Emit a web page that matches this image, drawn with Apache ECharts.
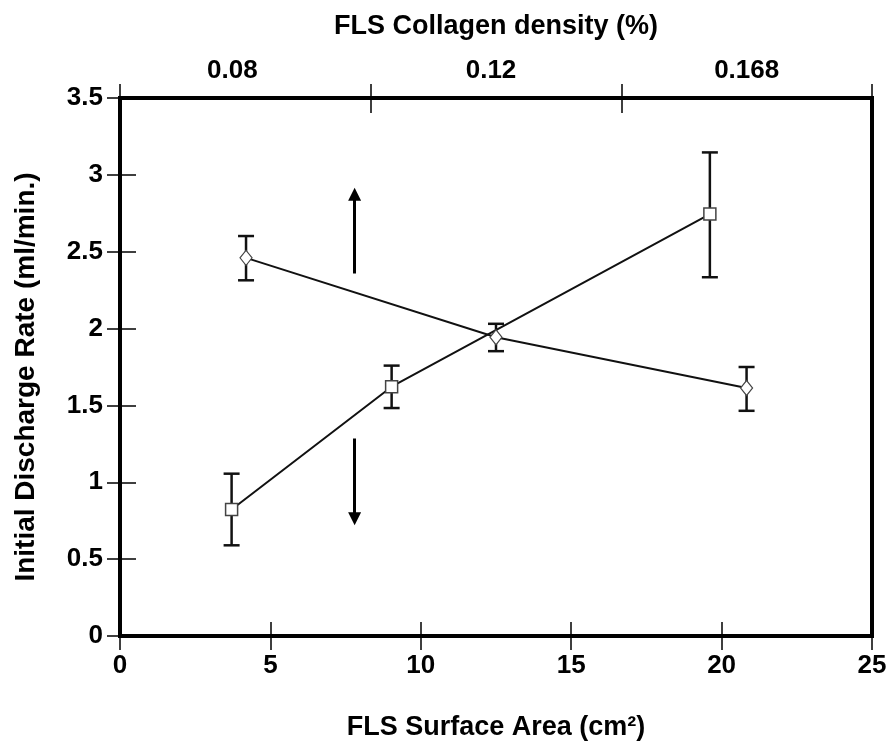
<!DOCTYPE html>
<html>
<head>
<meta charset="utf-8">
<script src="https://cdn.jsdelivr.net/npm/echarts@6/dist/echarts.min.js"></script>
<style>html,body{margin:0;padding:0;background:#fff;}#c{width:886px;height:746px;}</style>
</head>
<body>
<div id="c"></div>
<script>
// Surface area series (squares)
const areaX = [3.71, 9.03, 19.61];
const areaY = [0.823, 1.622, 2.745];
const areaLo = [0.59, 1.483, 2.334];
const areaHi = [1.056, 1.759, 3.146];
// Collagen density series (diamonds)
const densX = [4.19, 12.5, 20.83];
const densY = [2.46, 1.944, 1.613];
const densLo = [2.314, 1.853, 1.465];
const densHi = [2.602, 2.031, 1.75];
// Top axis categories
const topCats = ['0.08', '0.12', '0.168'];
// Arrows [x, yStart, yEnd]
const arrowX = [7.8, 7.8];
const arrowStart = [2.358, 1.285];
const arrowEnd = [2.874, 0.762];

const FONT = 'Liberation Sans, Arial, sans-serif';
const chart = echarts.init(document.getElementById('c'));

function errData(xs, lo, hi) { return xs.map((x, i) => [x, lo[i], hi[i]]); }
function errSeries(data) {
  return {
    type: 'custom', xAxisIndex: 0, yAxisIndex: 0, z: 3,
    data: data,
    renderItem: function (params, api) {
      const x = api.value(0);
      const lo = api.coord([x, api.value(1)]);
      const hi = api.coord([x, api.value(2)]);
      const w = 8;
      const st = { stroke: '#111', lineWidth: 2.5 };
      return { type: 'group', children: [
        { type: 'line', shape: { x1: lo[0], y1: lo[1], x2: hi[0], y2: hi[1] }, style: st },
        { type: 'line', shape: { x1: lo[0] - w, y1: lo[1], x2: lo[0] + w, y2: lo[1] }, style: st },
        { type: 'line', shape: { x1: hi[0] - w, y1: hi[1], x2: hi[0] + w, y2: hi[1] }, style: st }
      ]};
    }
  };
}

const axisLabelStyle = { fontFamily: FONT, fontWeight: 'bold', fontSize: 26, color: '#000' };
const nameStyle = { fontFamily: FONT, fontWeight: 'bold', fontSize: 27, color: '#000' };
const topShift = ['a', 'b', 'c'];

const option = {
  animation: false,
  backgroundColor: '#fff',
  grid: { left: 120, right: 14, top: 98, bottom: 110, containLabel: false, outerBoundsMode: 'none',
    show: true, borderColor: '#000', borderWidth: 4, backgroundColor: 'transparent' },
  xAxis: [
    { type: 'value', position: 'bottom', min: 0, max: 25, interval: 5, splitLine: { show: false },
      axisLine: { show: true, lineStyle: { color: '#000', width: 4 } },
      axisTick: { show: true, inside: false, length: 14, lineStyle: { color: '#000', width: 1.5 } },
      axisLabel: Object.assign({ margin: 17 }, axisLabelStyle),
      name: 'FLS Surface Area (cm²)', nameLocation: 'middle', nameGap: 78, nameTextStyle: nameStyle },
    { type: 'value', position: 'bottom', min: 0, max: 25, interval: 5, splitLine: { show: false },
      axisLine: { show: false }, axisLabel: { show: false },
      axisTick: { show: true, inside: true, length: 14, lineStyle: { color: '#000', width: 1.5 } } },
    { type: 'category', position: 'top', data: topCats, boundaryGap: true, splitLine: { show: false },
      axisLine: { show: true, lineStyle: { color: '#000', width: 4 } },
      axisTick: { show: true, inside: false, length: 14, lineStyle: { color: '#000', width: 1.5 } },
      axisLabel: Object.assign({ margin: 14,
        formatter: function (v, i) { return '{' + topShift[i] + '|' + v + '}'; },
        rich: {
          a: Object.assign({ padding: [0, 26, 0, 0] }, axisLabelStyle),
          b: Object.assign({ padding: [0, 10, 0, 0] }, axisLabelStyle),
          c: Object.assign({ padding: [0, 0, 0, 0] }, axisLabelStyle)
        } }, axisLabelStyle),
      name: 'FLS Collagen density (%)', nameLocation: 'middle', nameGap: 58, nameTextStyle: nameStyle },
    { type: 'category', position: 'top', data: topCats, boundaryGap: true, splitLine: { show: false },
      axisLine: { show: false }, axisLabel: { show: false },
      axisTick: { show: true, inside: true, length: 15, lineStyle: { color: '#000', width: 1.5 } } }
  ],
  yAxis: [
    { type: 'value', min: 0, max: 3.5, interval: 0.5, splitLine: { show: false },
      axisLine: { show: true, lineStyle: { color: '#000', width: 4 } },
      axisTick: { show: true, inside: false, length: 13, lineStyle: { color: '#000', width: 1.5 } },
      axisLabel: Object.assign({ margin: 17 }, axisLabelStyle),
      name: 'Initial Discharge Rate (ml/min.)', nameLocation: 'middle', nameGap: 80,
      nameTextStyle: Object.assign({}, nameStyle, { fontSize: 28, padding: [0, 20, 0, 0] }) },
    { type: 'value', min: 0, max: 3.5, interval: 0.5, splitLine: { show: false },
      position: 'left', axisLine: { show: false }, axisLabel: { show: false },
      axisTick: { show: true, inside: true, length: 16, lineStyle: { color: '#000', width: 1.5 } } }
  ],
  series: [
    errSeries(errData(areaX, areaLo, areaHi)),
    errSeries(errData(densX, densLo, densHi)),
    { type: 'line', xAxisIndex: 0, yAxisIndex: 0, z: 4,
      data: areaX.map((x, i) => [x, areaY[i]]),
      symbol: 'rect', symbolSize: 12,
      itemStyle: { color: '#fff', borderColor: '#444', borderWidth: 1.5 },
      lineStyle: { color: '#111', width: 2 } },
    { type: 'line', xAxisIndex: 0, yAxisIndex: 0, z: 4,
      data: densX.map((x, i) => [x, densY[i]]),
      symbol: 'diamond', symbolSize: [12, 15],
      itemStyle: { color: '#fff', borderColor: '#444', borderWidth: 1.2 },
      lineStyle: { color: '#111', width: 2 } },
    { type: 'lines', coordinateSystem: 'cartesian2d', xAxisIndex: 0, yAxisIndex: 0, z: 2,
      symbol: ['none', 'triangle'], symbolSize: [10, 13],
      lineStyle: { color: '#000', width: 3, opacity: 1 },
      data: arrowX.map((x, i) => ({ coords: [[x, arrowStart[i]], [x, arrowEnd[i]]] })) }
  ]
};
chart.setOption(option);
</script>
</body>
</html>
